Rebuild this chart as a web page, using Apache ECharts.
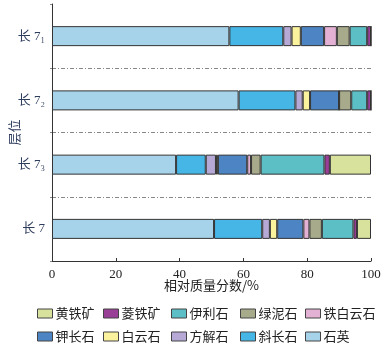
<!DOCTYPE html>
<html>
<head>
<meta charset="utf-8">
<script src="https://cdn.jsdelivr.net/npm/echarts@6/dist/echarts.min.js"></script>
<style>
  html, body { margin: 0; padding: 0; background: #fff; }
  #chart { width: 392px; height: 350px; }
</style>
</head>
<body>
<div id="chart"></div>
<script>
// layers, top to bottom
var layers = ['长 7₁', '长 7₂', '长 7₃', '长 7'];

// minerals in stacking order (left to right)
var minerals = ['石英', '斜长石', '方解石', '白云石', '钾长石', '铁白云石', '绿泥石', '伊利石', '菱铁矿', '黄铁矿'];
var colors = ['#a6d3e9', '#46b6e7', '#b6a9d5', '#fbf29d', '#4d85c4', '#e3b1d3', '#a8ab8b', '#5cbfc5', '#993f97', '#d8e29d'];

// relative mass fraction, %
var quartz      = [55.6, 58.5, 38.9, 50.8];
var plagioclase = [16.9, 17.8, 9.3, 15.1];
var calcite     = [2.6, 2.3, 3.2, 2.4];
var dolomite    = [2.9, 2.3, 0.6, 2.3];
var kfeldspar   = [7.3, 9.1, 9.2, 8.2];
var ankerite    = [4.0, 0, 1.2, 1.9];
var chlorite    = [4.0, 3.8, 3.0, 3.9];
var illite      = [5.5, 5.0, 20.0, 9.9];
var siderite    = [1.2, 1.2, 1.7, 1.1];
var pyrite      = [0, 0, 12.9, 4.4];
var values = [quartz, plagioclase, calcite, dolomite, kfeldspar, ankerite, chlorite, illite, siderite, pyrite];

// legend columns: [row1, row2]
var legendCols = [['黄铁矿', '钾长石'], ['菱铁矿', '白云石'], ['伊利石', '方解石'], ['绿泥石', '斜长石'], ['铁白云石', '石英']];
var legendLefts = [37, 103, 171, 240, 305];

var serif = 'Liberation Serif, Noto Sans CJK SC';
var cjk = 'Noto Sans CJK SC';

var chart = echarts.init(document.getElementById('chart'));

var series = minerals.map(function (name, i) {
  return {
    name: name,
    type: 'bar',
    stack: 'total',
    barWidth: 20,
    data: values[i],
    itemStyle: { color: colors[i], borderColor: '#333', borderWidth: 1 }
  };
});

var legends = legendCols.map(function (col, i) {
  return {
    orient: 'vertical',
    left: legendLefts[i],
    top: 306,
    data: col,
    icon: 'rect',
    itemWidth: 15,
    itemHeight: 9,
    itemGap: 8,
    padding: 0,
    itemStyle: { borderColor: '#444', borderWidth: 1 },
    textStyle: { fontFamily: cjk, fontSize: 13, color: '#222', lineHeight: 15, padding: [0, 0, 0, -2] }
  };
});

var option = {
  animation: false,
  backgroundColor: '#fff',
  grid: { left: 52, right: 21, top: 4, bottom: 89, containLabel: false, outerBoundsMode: 'none' },
  legend: legends,
  xAxis: {
    type: 'value',
    min: 0,
    max: 100,
    interval: 20,
    name: '相对质量分数/%',
    nameLocation: 'middle',
    nameGap: 18,
    nameMoveOverlap: false,
    nameTextStyle: { fontFamily: cjk, fontSize: 13, color: '#222' },
    axisLine: { show: true, lineStyle: { color: '#333', width: 1 } },
    axisTick: { show: true, inside: true, length: 3, lineStyle: { color: '#333' } },
    axisLabel: { fontFamily: serif, fontSize: 13, color: '#222', margin: 7 },
    splitLine: { show: false }
  },
  yAxis: {
    type: 'category',
    data: layers,
    inverse: true,
    name: '层位',
    nameLocation: 'middle',
    nameGap: 31,
    nameRotate: 90,
    nameMoveOverlap: false,
    nameTextStyle: { fontFamily: cjk, fontSize: 13, color: '#2e3d5c' },
    axisLine: { show: true, lineStyle: { color: '#333', width: 1 } },
    axisTick: { show: true, length: 2, lineStyle: { color: '#888' } },
    axisLabel: { fontFamily: serif, fontSize: 13, color: '#2e3d5c', margin: 7 },
    splitLine: {
      show: true,
      showMinLine: false,
      showMaxLine: false,
      lineStyle: { color: '#888', width: 1, type: [4, 2, 1, 2] }
    }
  },
  series: series
};

chart.setOption(option);
</script>
</body>
</html>
